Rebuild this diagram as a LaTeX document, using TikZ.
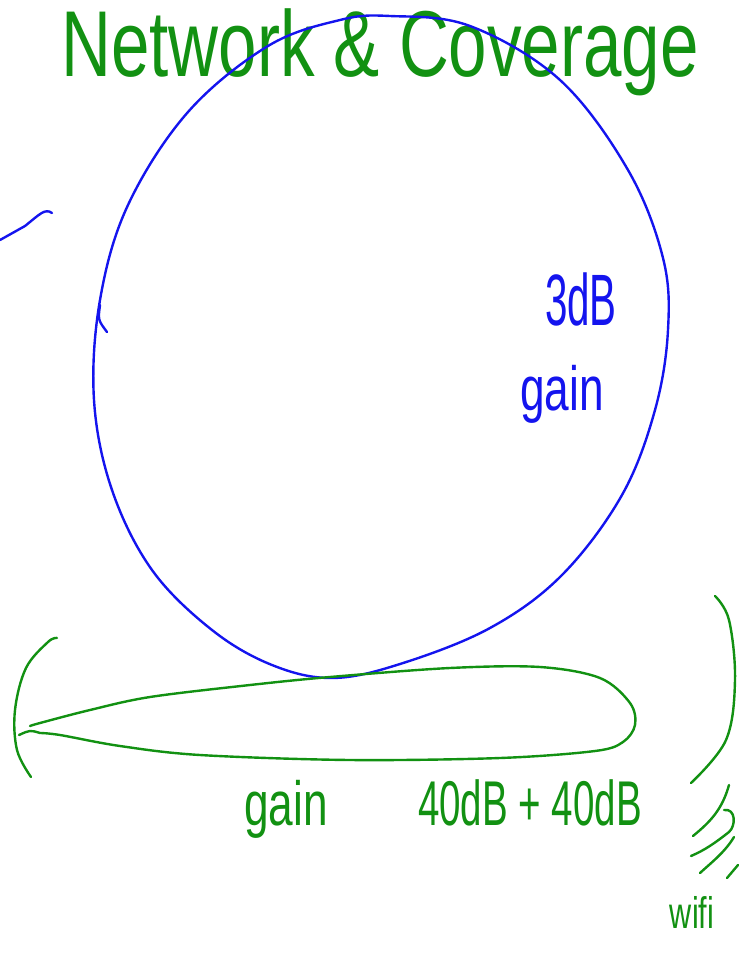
\documentclass[tikz,border=0pt]{standalone}
\usepackage{fontspec}
\setmainfont{Liberation Sans}
\usepackage{graphicx}
\definecolor{penG}{RGB}{18,145,18}
\definecolor{penB}{RGB}{20,20,238}
\begin{document}
\begin{tikzpicture}[x=1pt,y=-1pt,
  gstroke/.style={draw=penG,line width=2.4pt,line cap=round,line join=round},
  bstroke/.style={draw=penB,line width=2.4pt,line cap=round,line join=round},
  gtext/.style={text=penG,inner sep=0pt},
  btext/.style={text=penB,inner sep=0pt}]
\useasboundingbox (0,0) rectangle (742,954);
% title
\node[gtext,anchor=base] (title) at (380,76) {\fontsize{72}{72}\selectfont\scalebox{0.96}[1.3]{Network \& Coverage}};
% blue circle (beam pattern)
\draw[bstroke] plot[smooth cycle,tension=0.6] coordinates {
 (390,16) (470,26) (560,80) (628,170) (663,258) (668,330) (655,410)
 (622,495) (562,575) (490,628) (400,664) (332,678) (272,665) (212,630)
 (152,570) (112,490) (94,400) (100,300) (128,205) (188,112) (268,46) (340,20)};
\draw[bstroke] (100,305) .. controls (98,320) .. (107,332);
\draw[bstroke] (0,240) -- (25,226) .. controls (40,214) and (45,208) .. (52,213);
% blue labels
\node[btext,anchor=base] (tdb) at (581,325) {\fontsize{56}{56}\selectfont\scalebox{0.72}[1.3]{3dB}};
\node[btext,anchor=base] (bgain) at (562,410) {\fontsize{52}{52}\selectfont\scalebox{0.85}[1.2]{gain}};
% green lobe
\draw[gstroke] plot[smooth,tension=0.55] coordinates {
 (30,726) (40,723) (90,710) (150,697) (250,685) (330,677) (450,668) (540,667)
 (600,678) (630,703) (635,725) (623,742) (595,751) (500,758) (350,760)
 (200,755) (120,746) (60,735) (40,733)};
\draw[gstroke] (40,733) .. controls (30,730) .. (19,735);
% left arc
\draw[gstroke] plot[smooth,tension=0.6] coordinates {(57,638) (48,642) (26,668) (15,710) (17,750) (31,777)};
% right arc
\draw[gstroke] plot[smooth,tension=0.6] coordinates {(715,596) (729,620) (735,680) (726,740) (691,783)};
% wifi waves
\draw[gstroke] (729,785) .. controls (722,810) and (710,822) .. (693,836);
\draw[gstroke] (724,810) .. controls (736,808) and (736,826) .. (729,832) .. controls (715,843) and (705,850) .. (691,856);
\draw[gstroke] (734,837) .. controls (725,852) and (712,862) .. (700,873);
\draw[gstroke] (738,865) -- (727,878);
% green labels
\node[gtext,anchor=base] (ggain) at (286,825) {\fontsize{52}{52}\selectfont\scalebox{0.85}[1.2]{gain}};
\node[gtext,anchor=base] (sum) at (530,825) {\fontsize{55}{55}\selectfont\scalebox{0.7}[1.15]{40dB + 40dB}};
\node[gtext,anchor=base] (wifi) at (692,928) {\fontsize{34}{34}\selectfont\scalebox{0.9}[1.3]{wifi}};
\end{tikzpicture}
\end{document}
